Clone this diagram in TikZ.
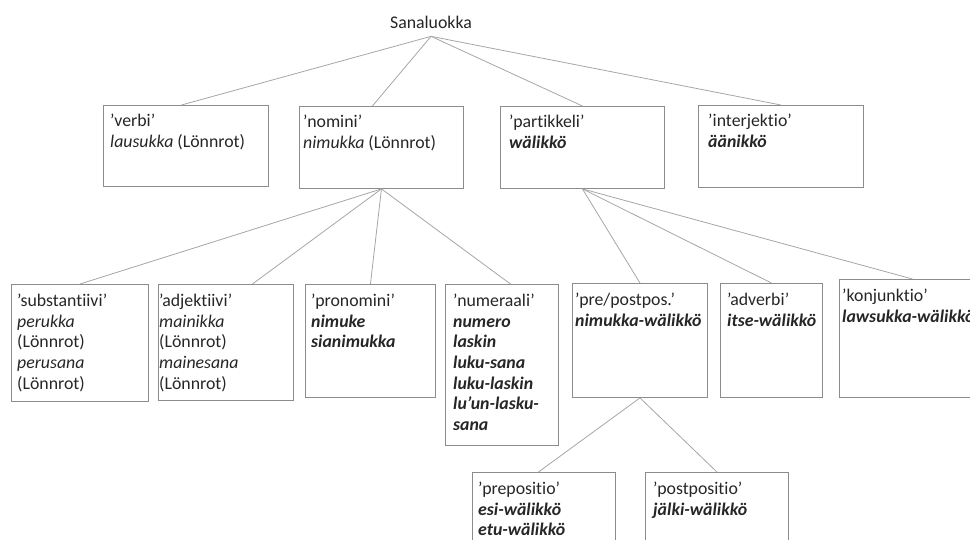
\documentclass[tikz,border=0pt]{standalone}
\usepackage{fontspec}
\setmainfont{Carlito}[Ligatures=NoCommon]
\usetikzlibrary{positioning,calc}
\definecolor{edge}{HTML}{A6A6A6}
\definecolor{frame}{HTML}{8C8C8C}
\definecolor{ink}{HTML}{262626}
\tikzset{
  wbox/.style={draw=frame,line width=0.9pt,anchor=north west,inner sep=0pt},
  wtxt/.style={anchor=north west,align=left,inner sep=0pt,text=ink,
    font=\fontsize{17.8}{20.6}\selectfont},
  link/.style={draw=edge,line width=0.8pt}
}
\newcommand{\bi}[1]{\textbf{\textit{#1}}}

\begin{document}
\begin{tikzpicture}[x=1pt,y=-1pt]
  \useasboundingbox (0,0) rectangle (970,539);
  \clip (0,0) rectangle (970,539);

  % Root
  \node[wtxt,anchor=base] (root) at (431,28) {Sanaluokka};
  \coordinate (hub) at ([yshift=-8pt]root.south);

  % First level
  \node[wbox,minimum width=165pt,minimum height=81pt] (verbi) at (103,105) {};
  \node[wtxt] (verbi-t) at ([xshift=7pt,yshift=-9pt]verbi.north west)
    {’verbi’\\\textit{lausukka} (Lönnrot)};
  \node[wbox,minimum width=164pt,minimum height=82pt] (nomini) at (299,106) {};
  \node[wtxt] (nomini-t) at ([xshift=4pt,yshift=-9pt]nomini.north west)
    {’nomini’\\\textit{nimukka} (Lönnrot)};
  \node[wbox,minimum width=164pt,minimum height=82pt] (partikkeli) at (500,106) {};
  \node[wtxt] (partikkeli-t) at ([xshift=9pt,yshift=-9pt]partikkeli.north west)
    {’partikkeli’\\\bi{wälikkö}};
  \node[wbox,minimum width=165pt,minimum height=82pt] (interjektio) at (698,105) {};
  \node[wtxt] (interjektio-t) at ([xshift=10pt,yshift=-9pt]interjektio.north west)
    {’interjektio’\\\bi{äänikkö}};

  % Nominit
  \node[wbox,minimum width=137pt,minimum height=117pt] (subst) at (11,284) {};
  \node[wtxt] (subst-t) at ([xshift=6pt,yshift=-10pt]subst.north west)
    {’substantiivi’\\\textit{perukka}\\(Lönnrot)\\\textit{perusana}\\(Lönnrot)};
  \node[wbox,minimum width=135pt,minimum height=116pt] (adj) at (158,284) {};
  \node[wtxt] (adj-t) at ([xshift=1pt,yshift=-10pt]adj.north west)
    {’adjektiivi’\\\textit{mainikka}\\(Lönnrot)\\\textit{mainesana}\\(Lönnrot)};
  \node[wbox,minimum width=130pt,minimum height=113pt] (pron) at (305,284) {};
  \node[wtxt] (pron-t) at ([xshift=6pt,yshift=-10pt]pron.north west)
    {’pronomini’\\\bi{nimuke}\\\bi{sianimukka}};
  \node[wbox,minimum width=113pt,minimum height=161pt] (num) at (445,284) {};
  \node[wtxt] (num-t) at ([xshift=8pt,yshift=-10pt]num.north west)
    {’numeraali’\\\bi{numero}\\\bi{laskin}\\\bi{luku-sana}\\\bi{luku-laskin}\\\bi{lu’un-lasku-}\\\bi{sana}};

  % Partikkelit
  \node[wbox,minimum width=135pt,minimum height=114pt] (prepost) at (572,283) {};
  \node[wtxt] (prepost-t) at ([xshift=3pt,yshift=-10pt]prepost.north west)
    {’pre/postpos.’\\\bi{nimukka-wälikkö}};
  \node[wbox,minimum width=102pt,minimum height=114pt] (adverbi) at (720,283) {};
  \node[wtxt] (adverbi-t) at ([xshift=7pt,yshift=-10pt]adverbi.north west)
    {’adverbi’\\\bi{itse-wälikkö}};
  \node[wbox,minimum width=146pt,minimum height=118pt] (konj) at (839,279) {};
  \node[wtxt] (konj-t) at ([xshift=3pt,yshift=-10pt]konj.north west)
    {’konjunktio’\\\bi{lawsukka-wälikkö}};

  % Adpositiot
  \node[wbox,minimum width=143pt,minimum height=100pt] (prep) at (472,472) {};
  \node[wtxt] (prep-t) at ([xshift=6pt,yshift=-10pt]prep.north west)
    {’prepositio’\\\bi{esi-wälikkö}\\\bi{etu-wälikkö}};
  \node[wbox,minimum width=143pt,minimum height=100pt] (post) at (645,472) {};
  \node[wtxt] (post-t) at ([xshift=8pt,yshift=-10pt]post.north west)
    {’postpositio’\\\bi{jälki-wälikkö}};

  % Connectors
  \draw[link] (hub) -- ([xshift=-4.5pt]verbi.north);
  \draw[link] (hub) -- ([xshift=-9pt]nomini.north);
  \draw[link] (hub) -- (partikkeli.north);
  \draw[link] (hub) -- (interjektio.north);
  \draw[link] (nomini.south) -- (subst.north);
  \draw[link] (nomini.south) -- ([xshift=26.5pt]adj.north);
  \draw[link] (nomini.south) -- (pron.north);
  \draw[link] (nomini.south) -- ([xshift=8.5pt]num.north);
  \draw[link] (partikkeli.south) -- (prepost.north);
  \draw[link] (partikkeli.south) -- (adverbi.north);
  \draw[link] (partikkeli.south) -- (konj.north);
  \draw[link] (prepost.south) -- ([xshift=-5.5pt]prep.north);
  \draw[link] (prepost.south) -- (post.north);
\end{tikzpicture}
\end{document}
